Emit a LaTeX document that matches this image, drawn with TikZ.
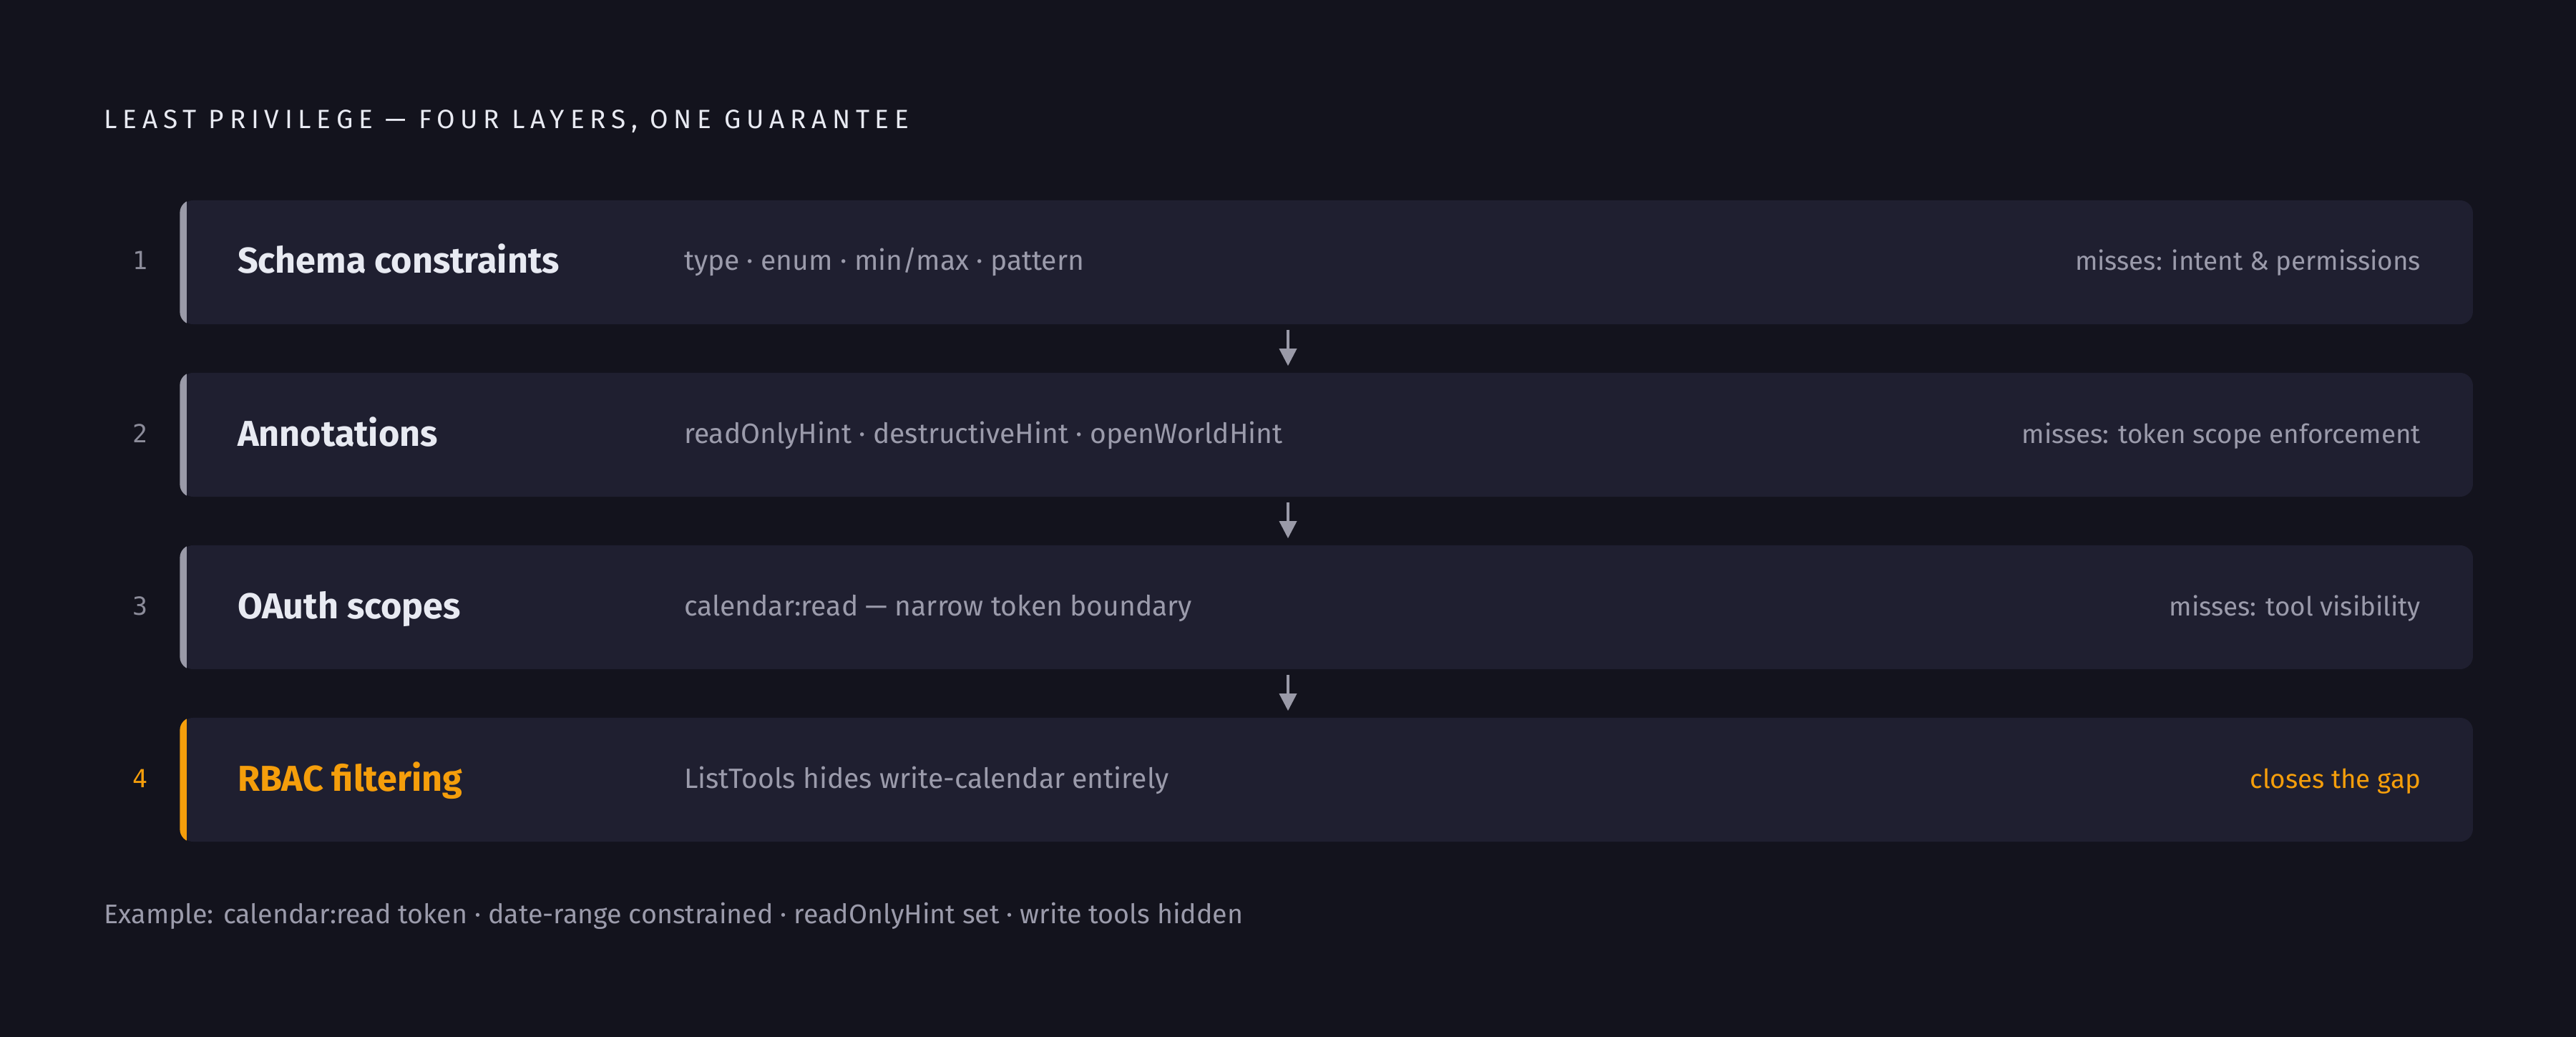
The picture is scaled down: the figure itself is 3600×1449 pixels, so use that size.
\documentclass[tikz,border=0pt]{standalone}
\usepackage{fontspec}
\usepackage{tikz}
\usetikzlibrary{positioning, calc, arrows.meta}
\setmainfont{Fira Sans}
\newfontfamily\headfont[LetterSpace=21]{Fira Sans}
\newfontfamily\numfont{DejaVu Sans Mono}
\definecolor{pagebg}{HTML}{13131D}
\definecolor{cardbg}{HTML}{1F1F30}
\definecolor{titlefg}{HTML}{E8EAF2}
\definecolor{mutedfg}{HTML}{9B9BAB}
\definecolor{numfg}{HTML}{8C8C9A}
\definecolor{edgegrey}{HTML}{9A9AA8}
\definecolor{accent}{HTML}{F59E0B}
\tikzset{>={Triangle[width=0.24cm, length=0.24cm]},
	card/.style={fill=cardbg, rounded corners=0.18cm, minimum width=32.02cm, minimum height=1.73cm, inner sep=0pt},
	layer name/.style={anchor=base west, inner sep=0pt, text=titlefg, font=\fontsize{14.3}{16}\selectfont\bfseries},
	layer text/.style={anchor=base west, inner sep=0pt, text=mutedfg, font=\fontsize{11.1}{13}\selectfont},
	layer miss/.style={anchor=base east, inner sep=0pt, text=mutedfg, font=\fontsize{10.45}{12}\selectfont},
	layer num/.style={anchor=base, inner sep=0pt, text=numfg, font=\numfont\fontsize{9.9}{11}\selectfont},
	flow/.style={->, draw=edgegrey, fill=edgegrey, line width=0.035cm}}

\begin{document}
\begin{tikzpicture}[x=0.01cm, y=-0.01cm]
	\fill[pagebg] (0,0) rectangle (3600,1449);
	\useasboundingbox (0,0) rectangle (3600,1449);
	\node[anchor=base west, inner sep=0pt, text=titlefg, font=\headfont\fontsize{10.5}{12}\selectfont] (Heading) at (145,180) {LEAST PRIVILEGE — FOUR LAYERS, ONE GUARANTEE};

	% the four layers
	\node[card] (Schema) at (1854,366.5) {};
	\node[card] (Annotations) at (1854,607.5) {};
	\node[card] (OAuth) at (1854,848.5) {};
	\node[card] (RBAC) at (1854,1089.5) {};
	\foreach \layer/\barcol in {Schema/edgegrey, Annotations/edgegrey, OAuth/edgegrey, RBAC/accent} {
		\begin{scope}
			\clip[rounded corners=0.18cm] (\layer.north west) rectangle (\layer.south east);
			\fill[\barcol] (\layer.north west) rectangle ($(\layer.south west)+(10,0)$);
		\end{scope}
	}

	\node[layer num] (Num 1) at ($(Schema.west)+(-55,10.5)$) {1};
	\node[layer name] (Name 1) at ($(Schema.west)+(80,15.5)$) {Schema constraints};
	\node[layer text] (Text 1) at ($(Schema.west)+(704,11.5)$) {type · enum · min/max · pattern};
	\node[layer miss] (Miss 1) at ($(Schema.east)+(-73,11.5)$) {misses: intent \& permissions};

	\node[layer num] (Num 2) at ($(Annotations.west)+(-55,10.5)$) {2};
	\node[layer name] (Name 2) at ($(Annotations.west)+(80,15.5)$) {Annotations};
	\node[layer text] (Text 2) at ($(Annotations.west)+(704,11.5)$) {readOnlyHint · destructiveHint · openWorldHint};
	\node[layer miss] (Miss 2) at ($(Annotations.east)+(-73,11.5)$) {misses: token scope enforcement};

	\node[layer num] (Num 3) at ($(OAuth.west)+(-55,10.5)$) {3};
	\node[layer name] (Name 3) at ($(OAuth.west)+(80,15.5)$) {OAuth scopes};
	\node[layer text] (Text 3) at ($(OAuth.west)+(704,11.5)$) {calendar:read — narrow token boundary};
	\node[layer miss] (Miss 3) at ($(OAuth.east)+(-73,11.5)$) {misses: tool visibility};

	\node[layer num, text=accent] (Num 4) at ($(RBAC.west)+(-55,10.5)$) {4};
	\node[layer name, text=accent] (Name 4) at ($(RBAC.west)+(80,15.5)$) {RBAC filtering};
	\node[layer text] (Text 4) at ($(RBAC.west)+(704,11.5)$) {ListTools hides write-calendar entirely};
	\node[layer miss, text=accent] (Miss 4) at ($(RBAC.east)+(-73,11.5)$) {closes the gap};

	% arrows between layers
	\draw[flow] ($(Schema.south)+(-54,7)$) -- ($(Annotations.north)+(-54,-9)$);
	\draw[flow] ($(Annotations.south)+(-54,7)$) -- ($(OAuth.north)+(-54,-9)$);
	\draw[flow] ($(OAuth.south)+(-54,7)$) -- ($(RBAC.north)+(-54,-9)$);

	\node[anchor=base west, inner sep=0pt, text=mutedfg, font=\fontsize{10.7}{12}\selectfont] (Footer) at (145,1290) {Example: calendar:read token · date-range constrained · readOnlyHint set · write tools hidden};
\end{tikzpicture}
\end{document}
